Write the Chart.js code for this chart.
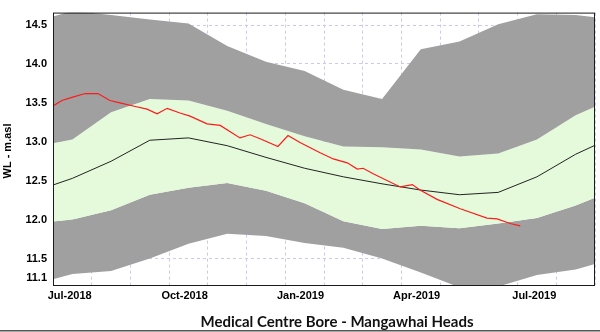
<!DOCTYPE html>
<html>
<head>
<meta charset="utf-8">
<script src="https://cdn.jsdelivr.net/npm/chart.js@4.4.1/dist/chart.umd.min.js"></script>
<style>
    html, body { margin: 0; padding: 0; background: #fff; }
</style>
</head>
<body>
<canvas id="wlChart" width="600" height="332"></canvas>
<script>
// x positions are months since 1 Jun 2018 (0 = 1 Jun 2018, 14 = 1 Aug 2019)
var xMin = 0, xMax = 14;
var yMin = 11.16, yMax = 14.66;

var tickMonths = [1, 4, 7, 10, 13];
var tickNames = ['Jul-2018', 'Oct-2018', 'Jan-2019', 'Apr-2019', 'Jul-2019'];
var yTickValues = [11.25, 11.5, 12.0, 12.5, 13.0, 13.5, 14.0, 14.5];
var yTickLabels = ['11.1', '11.5', '12.0', '12.5', '13.0', '13.5', '14.0', '14.5'];

// monthly statistics, plotted mid-month (May-2018 .. Aug-2019)
var statMonths = [-0.5, 0.5, 1.5, 2.5, 3.5, 4.5, 5.5, 6.5, 7.5, 8.5, 9.5, 10.5, 11.5, 12.5, 13.5, 14.5];
var statMax    = [14.54, 14.68, 14.63, 14.57, 14.52, 14.23, 14.03, 13.91, 13.67, 13.55, 14.19, 14.29, 14.51, 14.64, 14.63, 14.57];
var statUpper  = [12.93, 13.03, 13.38, 13.55, 13.53, 13.40, 13.23, 13.07, 12.94, 12.93, 12.90, 12.81, 12.85, 13.03, 13.34, 13.56];
var statMedian = [12.36, 12.53, 12.75, 13.02, 13.05, 12.95, 12.80, 12.66, 12.55, 12.46, 12.38, 12.32, 12.35, 12.55, 12.84, 13.07];
var statLower  = [11.95, 12.00, 12.12, 12.32, 12.41, 12.47, 12.37, 12.21, 11.98, 11.88, 11.92, 11.89, 11.95, 12.02, 12.18, 12.38];
var statMin    = [11.17, 11.30, 11.34, 11.50, 11.69, 11.82, 11.79, 11.70, 11.64, 11.50, 11.32, 11.13, 11.14, 11.29, 11.36, 11.50];

// observed water level
var obsMonths = [0.00, 0.23, 0.49, 0.83, 1.16, 1.47, 1.73, 2.07, 2.43, 2.69, 2.95, 3.28, 3.54, 3.98, 4.32, 4.83, 5.09, 5.35,
                 5.81, 6.07, 6.38, 6.90, 7.24, 7.60, 7.86, 8.01, 8.27, 8.97, 9.28, 9.48, 9.92, 10.52, 11.21, 11.47, 11.81, 12.07];
var obsLevel  = [13.46, 13.53, 13.57, 13.62, 13.62, 13.53, 13.50, 13.46, 13.42, 13.36, 13.43, 13.37, 13.33, 13.23, 13.21, 13.05, 13.09, 13.04,
                 12.94, 13.08, 12.99, 12.86, 12.78, 12.73, 12.65, 12.66, 12.59, 12.42, 12.45, 12.38, 12.26, 12.14, 12.02, 12.01, 11.95, 11.92];

var chartTitle = 'Medical Centre Bore - Mangawhai Heads';
var yTitle = 'WL - m.asl';

function pairs(xs, ys) {
    return xs.map(function(x, i) { return { x: x, y: ys[i] }; });
}

var grey = '#a0a0a0';
var green = '#e4fadb';
var gridColor = '#c9c9f3';

var framePlugin = {
    id: 'frame',
    afterDatasetsDraw: function(chart) {
        var ctx = chart.ctx, a = chart.chartArea;
        ctx.save();
        ctx.strokeStyle = '#1a1a1a';
        ctx.lineWidth = 1;
        ctx.strokeRect(a.left + 0.5, a.top + 0.5, a.right - a.left - 1, a.bottom - a.top);
        ctx.restore();
    },
    afterDraw: function(chart) {
        var ctx = chart.ctx;
        ctx.save();
        ctx.fillStyle = '#000';
        ctx.font = 'bold 11px "Liberation Sans", Arial, sans-serif';
        ctx.textAlign = 'center';
        ctx.textBaseline = 'middle';
        ctx.translate(8, 151);
        ctx.rotate(-Math.PI / 2);
        ctx.fillText(yTitle, 0, 0);
        ctx.restore();

        ctx.save();
        ctx.fillStyle = '#111';
        ctx.font = 'bold 15px Lato, "Open Sans", sans-serif';
        ctx.textAlign = 'center';
        ctx.textBaseline = 'alphabetic';
        ctx.fillText(chartTitle, 337, 327);
        ctx.fillStyle = '#555';
        ctx.fillRect(0, 330, 600, 1.5);
        ctx.restore();
    }
};

var ctx = document.getElementById('wlChart').getContext('2d');
var wlChart = new Chart(ctx, {
    type: 'line',
    data: {
        datasets: [{
            label: 'Observed',
            data: pairs(obsMonths, obsLevel),
            borderColor: '#ff1a1a',
            borderWidth: 1.2,
            pointRadius: 0,
            fill: false
        }, {
            label: 'Median',
            data: pairs(statMonths, statMedian),
            borderColor: '#222',
            borderWidth: 1,
            pointRadius: 0,
            fill: false
        }, {
            label: 'Max',
            data: pairs(statMonths, statMax),
            borderWidth: 0,
            pointRadius: 0,
            backgroundColor: grey,
            fill: '+1'
        }, {
            label: 'Upper',
            data: pairs(statMonths, statUpper),
            borderWidth: 0,
            pointRadius: 0,
            backgroundColor: green,
            fill: '+1'
        }, {
            label: 'Lower',
            data: pairs(statMonths, statLower),
            borderWidth: 0,
            pointRadius: 0,
            backgroundColor: grey,
            fill: '+1'
        }, {
            label: 'Min',
            data: pairs(statMonths, statMin),
            borderWidth: 0,
            pointRadius: 0,
            fill: false
        }]
    },
    options: {
        responsive: false,
        animation: false,
        devicePixelRatio: 1,
        layout: { padding: { left: 0, right: 5, top: 8, bottom: 0 } },
        plugins: {
            legend: { display: false },
            tooltip: { enabled: false },
            title: { display: false }
        },
        scales: {
            x: {
                type: 'linear',
                min: xMin,
                max: xMax,
                afterFit: function(scale) { scale.height = 47; },
                afterBuildTicks: function(scale) {
                    var t = [];
                    for (var m = xMin; m <= xMax; m++) t.push({ value: m });
                    scale.ticks = t;
                },
                grid: { color: gridColor, lineWidth: 1, drawTicks: false },
                border: { display: false, dash: [3, 3] },
                ticks: {
                    autoSkip: false,
                    maxRotation: 0,
                    align: 'end',
                    padding: 4,
                    color: '#000',
                    font: { family: '"Liberation Sans", Arial, sans-serif', size: 11, weight: 'bold' },
                    callback: function(value) {
                        var i = tickMonths.indexOf(value);
                        return i >= 0 ? tickNames[i] : '';
                    }
                }
            },
            y: {
                min: yMin,
                max: yMax,
                afterFit: function(scale) { scale.width = 53; },
                afterBuildTicks: function(scale) {
                    scale.ticks = yTickValues.map(function(v) { return { value: v }; });
                },
                grid: {
                    drawTicks: false,
                    lineWidth: 1,
                    color: function(c) {
                        return c.tick && c.tick.value === yTickValues[0] ? 'rgba(0,0,0,0)' : gridColor;
                    }
                },
                border: { display: false, dash: [3, 3] },
                ticks: {
                    autoSkip: false,
                    padding: 6,
                    color: '#000',
                    font: { family: '"Liberation Sans", Arial, sans-serif', size: 11, weight: 'bold' },
                    callback: function(value, index) { return yTickLabels[index]; }
                }
            }
        }
    },
    plugins: [framePlugin]
});
</script>
</body>
</html>
